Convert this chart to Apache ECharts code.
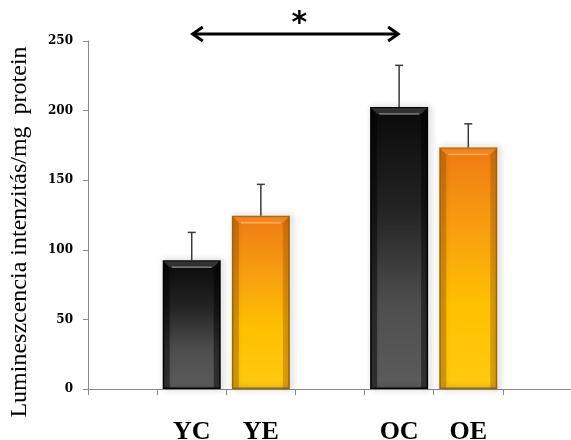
<!DOCTYPE html>
<html>
<head>
<meta charset="utf-8">
<script src="https://cdn.jsdelivr.net/npm/echarts@6/dist/echarts.min.js"></script>
<style>
html,body{margin:0;padding:0;background:#fff;}
#chart{width:571px;height:440px;}
</style>
</head>
<body>
<div id="chart"></div>
<script>
// ---- data ----
const categories = ['', 'YC', 'YE', '', 'OC', 'OE', ''];
const meanValues = [null, 92.5, 124.5, null, 202.5, 173.5, null];
const errorValues = [null, 20, 22.5, null, 30, 17, null];
const yTicks = [0, 50, 100, 150, 200, 250];
const yAxisTitle = 'Lumineszcencia intenzitás/mg  protein';
const compareFrom = 'YC';
const compareTo = 'OC';
const compareLabel = '*';
const compareLevel = 255;

// ---- styles ----
function darkFill() {
  return new echarts.graphic.LinearGradient(0, 0, 0, 1, [
    {offset: 0, color: '#0a0a0a'},
    {offset: 0.35, color: '#222222'},
    {offset: 0.7, color: '#4e4e4e'},
    {offset: 1, color: '#5c5c5c'}
  ]);
}
function orangeFill() {
  return new echarts.graphic.LinearGradient(0, 0, 0, 1, [
    {offset: 0, color: '#ef7a12'},
    {offset: 0.35, color: '#f8a010'},
    {offset: 0.65, color: '#ffc000'},
    {offset: 1, color: '#ffca10'}
  ]);
}
const isControl = (i) => categories[i].endsWith('C');
const barData = meanValues.map((v, i) => ({
  value: v,
  itemStyle: {
    color: isControl(i) ? darkFill() : orangeFill(),
    borderColor: isControl(i) ? '#000000' : '#9a6a00',
    borderWidth: 1.5,
    shadowColor: 'rgba(0,0,0,0.45)',
    shadowBlur: 6,
    shadowOffsetX: 2,
    shadowOffsetY: 0
  }
}));
const errData = meanValues.map((v, i) => [i, v, errorValues[i]]);
const BAR_W = 58;

const chart = echarts.init(document.getElementById('chart'), null, {renderer: 'canvas'});
const option = {
  animation: false,
  backgroundColor: '#ffffff',
  grid: {left: 88, top: 41, width: 484, height: 348, containLabel: false, outerBoundsMode: 'none'},
  xAxis: {
    type: 'category',
    data: categories,
    boundaryGap: true,
    axisLine: {show: true, lineStyle: {color: '#8a8a8a', width: 1}},
    axisTick: {show: true, length: 6, lineStyle: {color: '#8a8a8a'}},
    axisLabel: {
      interval: 0,
      margin: 30,
      color: '#000',
      fontFamily: 'Liberation Serif',
      fontWeight: 'bold',
      fontSize: 26
    },
    splitLine: {show: false}
  },
  yAxis: {
    type: 'value',
    min: yTicks[0],
    max: yTicks[yTicks.length - 1],
    interval: yTicks[1] - yTicks[0],
    axisLine: {show: true, lineStyle: {color: '#8a8a8a', width: 1}},
    axisTick: {show: true, length: 5, lineStyle: {color: '#8a8a8a'}},
    axisLabel: {
      margin: 15,
      color: '#000',
      fontFamily: 'DejaVu Serif',
      fontWeight: 'bold',
      fontSize: 12
    },
    splitLine: {show: false}
  },
  series: [
    {
      type: 'bar',
      data: barData,
      barWidth: BAR_W,
      z: 2
    },
    {
      // bevel shading on each bar
      type: 'custom',
      data: meanValues.map((v, i) => [i, v]),
      z: 3,
      silent: true,
      renderItem: function (params, api) {
        const v = api.value(1);
        if (v == null || isNaN(v)) return null;
        const idx = params.dataIndex;
        const top = api.coord([api.value(0), v]);
        const base = api.coord([api.value(0), 0]);
        const x0 = top[0] - BAR_W / 2 + 1, x1 = top[0] + BAR_W / 2 - 1;
        const y0 = top[1] + 1, y1 = base[1];
        const b = 6;
        const dark = isControl(idx);
        const sideCol = dark ? 'rgba(0,0,0,0.45)' : 'rgba(150,80,0,0.35)';
        const topCol = dark ? 'rgba(120,120,120,0.35)' : 'rgba(255,140,40,0.6)';
        const hl = dark ? 'rgba(200,200,200,0.55)' : 'rgba(255,200,120,0.7)';
        return {
          type: 'group',
          children: [
            {type: 'polygon', shape: {points: [[x0, y0], [x0 + b, y0 + b], [x0 + b, y1], [x0, y1]]},
             style: {fill: sideCol}},
            {type: 'polygon', shape: {points: [[x1, y0], [x1 - b, y0 + b], [x1 - b, y1], [x1, y1]]},
             style: {fill: sideCol}},
            {type: 'polygon', shape: {points: [[x0, y0], [x1, y0], [x1 - b, y0 + b], [x0 + b, y0 + b]]},
             style: {fill: topCol}},
            {type: 'line', shape: {x1: x0 + b + 2, y1: y0 + b, x2: x1 - b - 2, y2: y0 + b},
             style: {stroke: hl, lineWidth: 1.5}}
          ]
        };
      }
    },
    {
      type: 'custom',
      data: errData,
      z: 4,
      renderItem: function (params, api) {
        const v = api.value(1);
        const e = api.value(2);
        if (v == null || isNaN(v) || e == null || isNaN(e)) return null;
        const p0 = api.coord([api.value(0), v]);
        const p1 = api.coord([api.value(0), v + e]);
        const cap = 4;
        return {
          type: 'group',
          children: [
            {type: 'line', shape: {x1: p0[0], y1: p0[1], x2: p1[0], y2: p1[1]},
             style: {stroke: '#3a3a3a', lineWidth: 1.5}},
            {type: 'line', shape: {x1: p1[0] - cap, y1: p1[1], x2: p1[0] + cap, y2: p1[1]},
             style: {stroke: '#3a3a3a', lineWidth: 1.5}}
          ]
        };
      }
    }
  ]
};
chart.setOption(option);

// y axis title and significance arrow
const iFrom = categories.indexOf(compareFrom);
const iTo = categories.indexOf(compareTo);
const pA = chart.convertToPixel({xAxisIndex: 0, yAxisIndex: 0}, [iFrom, compareLevel]);
const pB = chart.convertToPixel({xAxisIndex: 0, yAxisIndex: 0}, [iTo, compareLevel]);
const midY = chart.convertToPixel({yAxisIndex: 0}, (yTicks[0] + yTicks[yTicks.length - 1]) / 2);
const head = 11, half = 7;
chart.setOption({
  graphic: [
    {
      type: 'text',
      x: 20, y: midY + 17,
      rotation: Math.PI / 2,
      style: {
        text: yAxisTitle,
        fill: '#000',
        font: '24px "Liberation Serif"',
        align: 'center',
        verticalAlign: 'middle'
      }
    },
    {
      type: 'line',
      shape: {x1: pA[0] + 1, y1: pA[1], x2: pB[0] - 1, y2: pB[1]},
      style: {stroke: '#000', lineWidth: 3}
    },
    {
      type: 'polyline',
      shape: {points: [[pA[0] + head, pA[1] - half], [pA[0] + 1, pA[1]], [pA[0] + head, pA[1] + half]]},
      style: {stroke: '#000', lineWidth: 3, fill: null, lineJoin: 'miter'}
    },
    {
      type: 'polyline',
      shape: {points: [[pB[0] - head, pB[1] - half], [pB[0] - 1, pB[1]], [pB[0] - head, pB[1] + half]]},
      style: {stroke: '#000', lineWidth: 3, fill: null, lineJoin: 'miter'}
    },
    {
      type: 'text',
      x: (pA[0] + pB[0]) / 2 + 4, y: pA[1] - 25,
      style: {
        text: compareLabel,
        fill: '#000',
        font: 'bold 30px "DejaVu Sans"',
        align: 'center',
        verticalAlign: 'top'
      }
    }
  ]
});
</script>
</body>
</html>
